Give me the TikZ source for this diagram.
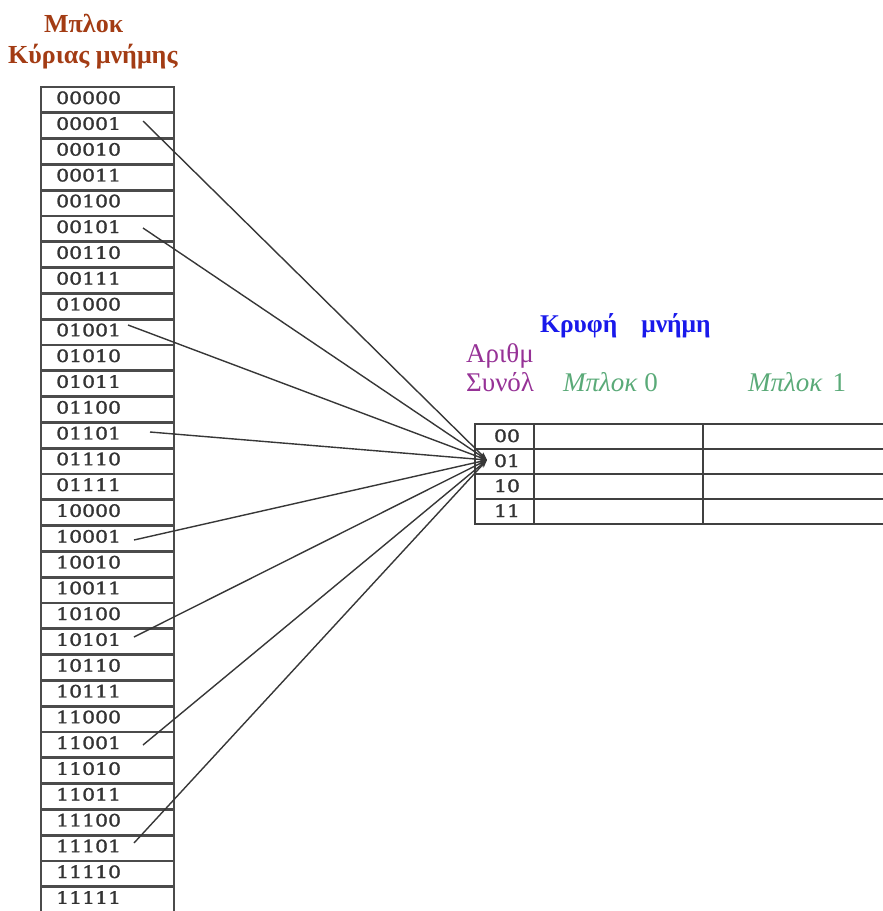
\documentclass[tikz,border=0pt]{standalone}
\usepackage{fontspec}
\setmainfont{Liberation Serif}
\newfontfamily\cellfont[FakeStretch=1.2,FakeBold=1.6]{DejaVu Serif}
\usetikzlibrary{arrows.meta}

\definecolor{headbrown}{RGB}{163,60,20}
\definecolor{cacheblue}{RGB}{25,25,235}
\definecolor{setpurple}{RGB}{150,50,150}
\definecolor{blockgreen}{RGB}{90,170,120}
\definecolor{gridgray}{RGB}{75,75,75}
\definecolor{wiregray}{RGB}{55,55,55}

\begin{document}
\begin{tikzpicture}[x=1pt,y=-1pt,
  memcell/.style={draw=gridgray, line width=2.8pt, minimum width=133pt,
    minimum height=25.8pt, inner sep=0pt, outer sep=0pt},
  celltext/.style={font=\cellfont\fontsize{17}{17}\selectfont, text=black!80,
    inner sep=0pt, anchor=base west},
  cachecell/.style={draw=black!75, line width=2.8pt, minimum height=25pt,
    inner sep=0pt, outer sep=0pt},
  wire/.style={draw=wiregray, line width=1.4pt, -{Stealth[length=8pt,width=5.5pt]}},
  heading/.style={font=\bfseries\fontsize{26}{26}\selectfont, inner sep=0pt, anchor=base west},
  label/.style={font=\fontsize{27}{27}\selectfont, inner sep=0pt, anchor=base west}
]
\useasboundingbox (0,0) rectangle (883,911);
\clip (0,0) rectangle (883,911);

% main memory title
\node[heading, text=headbrown] (title1) at (44,32) {Μπλοκ};
\node[heading, text=headbrown] (title2) at (8,63) {Κύριας μνήμης};

% main memory blocks
\foreach \b [count=\i from 0] in {00000,00001,00010,00011,00100,00101,00110,00111,
  01000,01001,01010,01011,01100,01101,01110,01111,
  10000,10001,10010,10011,10100,10101,10110,10111,
  11000,11001,11010,11011,11100,11101,11110,11111}{
  \node[memcell] (m\b) at (107.5,{87+25.8*(\i+0.5)}) {};
  \node[celltext] (t\b) at (56,{104+25.8*\i}) {\b};
}

% cache title and column headings
\node[heading, text=cacheblue, font=\bfseries\fontsize{25.5}{25.5}\selectfont] (cachetitle) at (540,332) {Κρυφή\hspace{24pt}μνήμη};
\node[label, text=setpurple] (setno1) at (466,362) {Αριθμ};
\node[label, text=setpurple] (setno2) at (466,391) {Συνόλ};
\node[label, text=blockgreen] (blk0) at (563,391) {\textit{Μπλοκ} 0};
\node[label, text=blockgreen] (blk1) at (748,391) {\textit{Μπλοκ}\hspace{10pt}1};

% cache sets
\foreach \s [count=\j from 0] in {00,01,10,11}{
  \node[cachecell, minimum width=59pt] (set\s) at (504.5,{424+25*(\j+0.5)}) {};
  \node[celltext, anchor=base] (lab\s) at (507,{442+25*\j}) {\s};
  \node[cachecell, minimum width=169pt] (w0\s) at (618.5,{424+25*(\j+0.5)}) {};
  \node[cachecell, minimum width=195pt] (w1\s) at (800.5,{424+25*(\j+0.5)}) {};
}

% blocks that map onto set 01
\coordinate (hit) at (487,460);
\coordinate (s1) at (143,121);
\coordinate (s2) at (143,228);
\coordinate (s3) at (128,325);
\coordinate (s4) at (150,432);
\coordinate (s5) at (134,540);
\coordinate (s6) at (134,637);
\coordinate (s7) at (143,745);
\coordinate (s8) at (134,843);
\foreach \k in {1,...,8}{
  \draw[wire] (s\k) -- (hit);
}
\end{tikzpicture}
\end{document}
